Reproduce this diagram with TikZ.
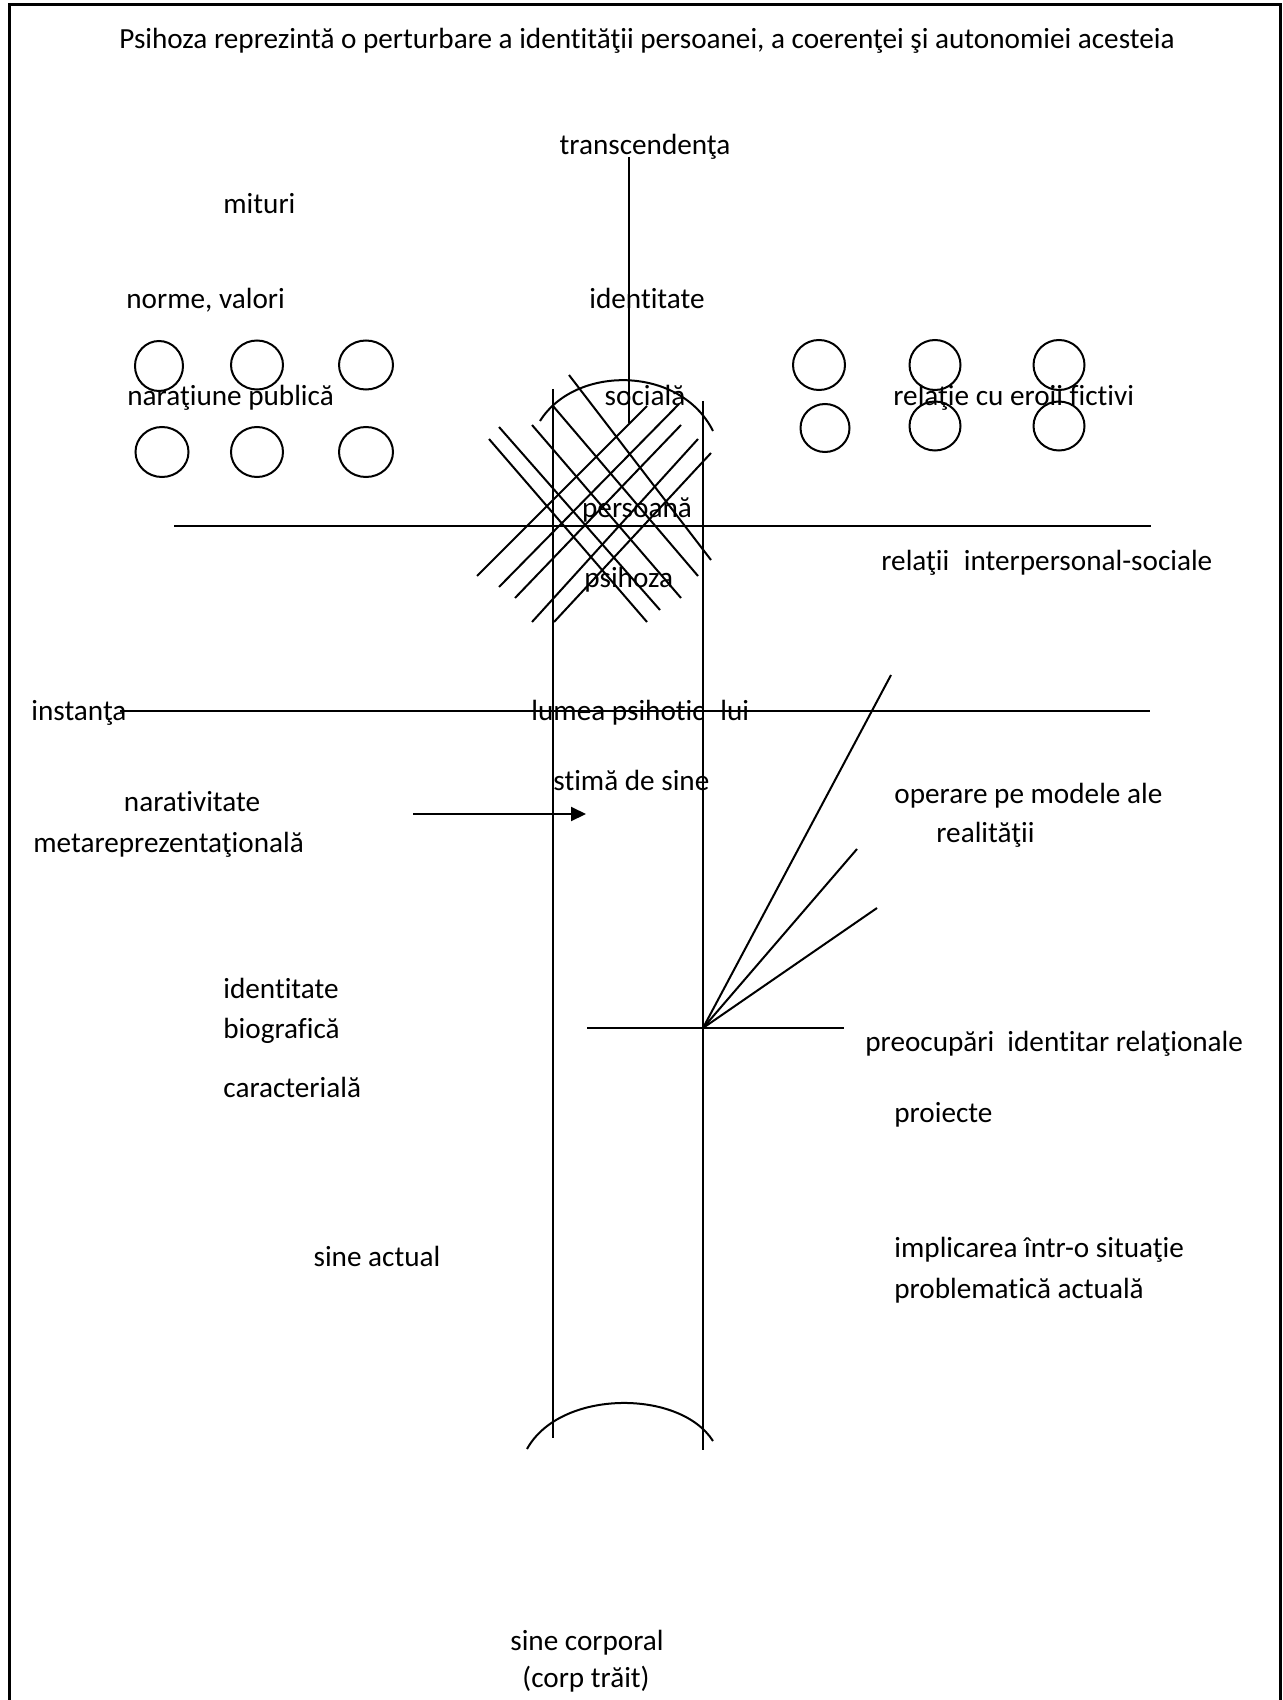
\documentclass[tikz,border=0pt]{standalone}
\usepackage{fontspec}
\setmainfont{Carlito}[Ligatures=NoCommon]
\usetikzlibrary{arrows.meta,shapes.geometric}
\begin{document}
\begin{tikzpicture}[x=0.5pt,y=-0.5pt,
  lbl/.style={inner sep=0pt, font=\fontsize{14.6}{17.5}\selectfont, text height=11.2pt, text depth=1pt},
  lw/.style={lbl, anchor=west},
  ln/.style={line width=1pt},
  bub/.style={ellipse, draw, line width=1pt, inner sep=0pt}]
\useasboundingbox (0,0) rectangle (1283,1700);
% frame
\draw[line width=1.5pt] (9,1702) -- (9,5) -- (1280,5) -- (1280,1702);

% texts
\node[lbl] (title) at (647,38) {Psihoza reprezintă o perturbare a identităţii persoanei, a coerenţei şi autonomiei acesteia};
\node[lbl] (transc) at (645,144) {transcendenţa};
\node[lw] (mituri) at (223,203) {mituri};
\node[lw] (norme) at (126,298) {norme, valori};
\node[lbl] (ident) at (647,298) {identitate};
\node[lw] (narpub) at (127,395) {naraţiune publică};
\node[lbl] (sociala) at (645,395) {socială};
\node[lw] (eroii) at (893,395) {relaţie cu eroii fictivi};
\node[lbl] (persoana) at (637,507) {persoană};
\node[lw] (psihoza) at (584,577) {psihoza};
\node[lw] (relint) at (881,560) {relaţii\hspace{0.5em}interpersonal-sociale};
\node[lw] (instanta) at (31,710) {instanţa};
\node[lw] (lumea) at (531,710) {lumea psihotic};
\node[lw] (lui) at (720,710) {lui};
\node[lw] (stima) at (553,780) {stimă de sine};
\node[lbl] (narat) at (192,801) {narativitate};
\node[lw] (meta) at (33,842) {metareprezentaţională};
\node[lw] (operare) at (894,793) {operare pe modele ale};
\node[lw] (realit) at (936,832) {realităţii};
\node[lw] (idbio) at (223,988) {identitate};
\node[lw] (biogr) at (223,1028) {biografică};
\node[lw] (caract) at (223,1087) {caracterială};
\node[lw] (preoc) at (865,1041) {preocupări\hspace{0.45em}identitar relaţionale};
\node[lw] (proiecte) at (894,1112) {proiecte};
\node[lbl] (sineact) at (377,1256) {sine actual};
\node[lw] (implic) at (894,1247) {implicarea într-o situaţie};
\node[lw] (problem) at (894,1288) {problematică actuală};
\node[lbl] (sinecorp) at (587,1640) {sine corporal};
\node[lbl] (corptrait) at (586,1677) {(corp trăit)};

% bubbles left
\node[bub, minimum width=24pt, minimum height=25pt] (L1) at (159,366) {};
\node[bub, minimum width=26pt, minimum height=24.5pt] (L2) at (257,365) {};
\node[bub, minimum width=27pt, minimum height=24.5pt] (L3) at (366,365) {};
\node[bub, minimum width=26.5pt, minimum height=25pt] (L4) at (162,452) {};
\node[bub, minimum width=26pt, minimum height=25pt] (L5) at (257,452) {};
\node[bub, minimum width=27pt, minimum height=25pt] (L6) at (366,452) {};
% bubbles right
\node[bub, minimum width=26pt, minimum height=25pt] (R1) at (819,365) {};
\node[bub, minimum width=25.5pt, minimum height=25pt] (R2) at (935,365) {};
\node[bub, minimum width=25.5pt, minimum height=25pt] (R3) at (1059,365) {};
\node[bub, minimum width=24.5pt, minimum height=24pt] (R4) at (825,428) {};
\node[bub, minimum width=25.5pt, minimum height=24.5pt] (R5) at (935,426) {};
\node[bub, minimum width=25.5pt, minimum height=24.5pt] (R6) at (1059,426) {};

% central column
\coordinate (vt) at (629,157);
\coordinate (vb) at (629,423);
\draw[ln] (vt) -- (vb);
\draw[ln] (553,389) -- (553,1438);
\draw[ln] (703,401) -- (703,1450);
\draw[ln] (540,421) .. controls (575,365) and (680,365) .. (713,431);
\draw[ln] (527,1449) .. controls (560,1389) and (680,1389) .. (713,1441);

% horizontal lines
\draw[ln] (174,526) -- (1151,526);
\draw[ln] (120,711) -- (1150,711);

% hatching /
\draw[ln] (477,576) -- (647,406);
\draw[ln] (499,587) -- (679,404);
\draw[ln] (515,598) -- (681,425);
\draw[ln] (532,622) -- (698,439);
\draw[ln] (554,622) -- (711,453);
% hatching \
\draw[ln] (489,439) -- (647,622);
\draw[ln] (499,427) -- (660,610);
\draw[ln] (532,425) -- (681,598);
\draw[ln] (553,406) -- (698,576);
\draw[ln] (569,375) -- (711,560);

% arrow
\coordinate (as) at (413,814);
\coordinate (ae) at (586,814);
\draw[ln, -{Triangle[length=7.5pt,width=7pt]}] (as) -- (ae);

% fan
\coordinate (fo) at (703,1028);
\draw[ln] (587,1028) -- (844,1028);
\draw[ln] (fo) -- (891,675);
\draw[ln] (fo) -- (857,849);
\draw[ln] (fo) -- (877,908);
\end{tikzpicture}
\end{document}
